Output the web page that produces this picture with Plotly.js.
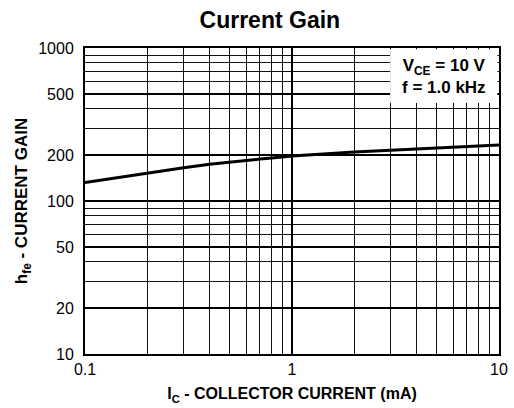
<!DOCTYPE html>
<html>
<head>
<meta charset="utf-8">
<script src="https://cdn.plot.ly/plotly-3.0.1.min.js"></script>
<style>html,body{margin:0;padding:0;background:#fff;}#chart{width:514px;height:408px;}</style>
</head>
<body>
<div id="chart"></div>
<script>
// Collector current (mA) and current gain hfe
const currentMA = [0.1, 0.2, 0.3, 0.4, 0.5, 0.6, 0.7, 0.8, 0.9, 1.0, 2, 3, 4, 5, 6, 7, 8, 9, 10];
const hfe = [132, 153, 165, 174, 180, 184.5, 188, 191, 194, 197, 209, 214, 219, 222, 224.5, 226.5, 228, 230, 232];

const xTickVals = [0.1, 1, 10];
const xTickText = ['0.1', '1', '10'];
const xMinor = [0.2,0.3,0.4,0.5,0.6,0.7,0.8,0.9,2,3,4,5,6,7,8,9];
const yTickVals = [10, 20, 50, 100, 200, 500, 1000];
const yTickText = ['10', '20', '50', '100', '200', '500', '1000'];
const yMinor = [30,40,60,70,80,90,300,400,600,700,800,900];

const trace = {
  x: currentMA, y: hfe, type: 'scatter', mode: 'lines',
  line: {color: '#000', width: 3},
  hoverinfo: 'skip'
};

const font = "'Liberation Sans', Arial, sans-serif";

const layout = {
  width: 514, height: 408,
  margin: {l: 85, r: 15, t: 48, b: 54},
  paper_bgcolor: '#fff', plot_bgcolor: '#fff',
  showlegend: false,
  title: {text: '<b>Current Gain</b>', font: {family: font, size: 23, color: '#000'},
          x: 0.525, xref: 'container', xanchor: 'center', y: 0.95, yref: 'container', yanchor: 'middle'},
  xaxis: {
    type: 'log', range: [-1, 1],
    tickmode: 'array', tickvals: xTickVals, ticktext: xTickText,
    ticks: '', showgrid: true, gridcolor: '#000', gridwidth: 1.5,
    minor: {tickmode: 'array', tickvals: xMinor, showgrid: true, gridcolor: '#111', gridwidth: 1, ticks: ''},
    showline: true, linecolor: '#000', linewidth: 2, mirror: true, zeroline: false,
    tickfont: {family: font, size: 16, color: '#000'},
    title: {text: '<b>I<sub>C</sub> - COLLECTOR CURRENT (mA)</b>', font: {family: font, size: 16, color: '#000'}, standoff: 11}
  },
  yaxis: {
    type: 'log', range: [1, 3],
    tickmode: 'array', tickvals: yTickVals, ticktext: yTickText,
    ticks: 'outside', ticklen: 6, tickcolor: 'rgba(0,0,0,0)',
    showgrid: true, gridcolor: '#000', gridwidth: 1.5,
    minor: {tickmode: 'array', tickvals: yMinor, showgrid: true, gridcolor: '#111', gridwidth: 1, ticks: ''},
    showline: true, linecolor: '#000', linewidth: 2, mirror: true, zeroline: false,
    tickfont: {family: font, size: 16, color: '#000'},
    title: {text: '<b>h<sub>fe</sub> - CURRENT GAIN</b>', font: {family: font, size: 17, color: '#000'}, standoff: 6}
  },
  shapes: [{
    type: 'rect', xref: 'paper', yref: 'paper', x0: 0.737, x1: 0.996, y0: 0.82, y1: 0.996,
    fillcolor: '#fff', line: {width: 0}, layer: 'above'
  }],
  annotations: [{
    xref: 'paper', yref: 'paper', x: 0.8665, y: 0.908, xanchor: 'center', yanchor: 'middle',
    text: '<b>V<sub>CE</sub> = 10 V</b><br><b>f = 1.0 kHz</b>', showarrow: false,
    font: {family: font, size: 17, color: '#000'}, align: 'center'
  }]
};

Plotly.newPlot('chart', [trace], layout, {displayModeBar: false, staticPlot: true});
</script>
</body>
</html>
